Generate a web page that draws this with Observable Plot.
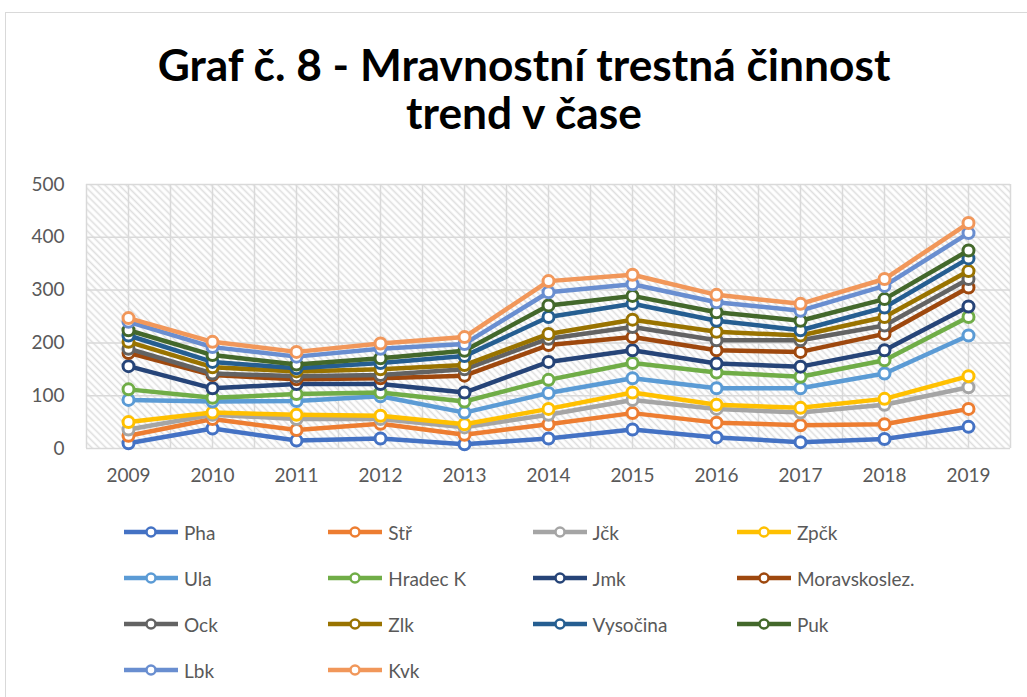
<!DOCTYPE html>
<html>
<head>
<meta charset="utf-8">
<script src="https://cdn.jsdelivr.net/npm/d3@7"></script>
<script src="https://cdn.jsdelivr.net/npm/@observablehq/plot@0.6"></script>
<style>
  html, body { margin: 0; padding: 0; background: #fff; }
  #page { position: relative; width: 1027px; height: 697px; overflow: hidden; font-family: Lato, "Liberation Sans", sans-serif; }
  #border { position: absolute; left: 5px; top: 12px; width: 1060px; height: 720px; border: 1.5px solid #d9d9d9; box-sizing: border-box; }
  .title { position: absolute; left: 0; width: 1048px; text-align: center; font-weight: 700; color: #000; white-space: nowrap; line-height: 1; }
  #chart { position: absolute; left: 0; top: 160px; }
  .leg { position: absolute; display: flex; align-items: center; font-size: 19px; color: #595959; white-space: nowrap; }
  .leg svg { margin-right: 5px; }
</style>
</head>
<body>
<div id="page">
  <div id="border"></div>
  <div class="title" id="t1">Graf č. 8 - Mravnostní trestná činnost</div>
  <div class="title" id="t2">trend v čase</div>
  <div id="chart"></div>
  <div id="legend"></div>
</div>
<script>
const years = [2009, 2010, 2011, 2012, 2013, 2014, 2015, 2016, 2017, 2018, 2019];
const yTicks = [0, 100, 200, 300, 400, 500];

const seriesNames = ["Pha", "Stř", "Jčk", "Zpčk", "Ula", "Hradec K", "Jmk", "Moravskoslez.", "Ock", "Zlk", "Vysočina", "Puk", "Lbk", "Kvk"];
const seriesColors = ["#4472C4", "#ED7D31", "#A5A5A5", "#FFC000", "#5B9BD5", "#70AD47", "#264478", "#9E480E", "#636363", "#997300", "#255E91", "#43682B", "#698ED0", "#F1975A"];

const pha      = [10, 38, 15, 19, 8, 19, 36, 21, 12, 18, 41];
const str      = [24, 56, 35, 47, 26, 46, 67, 49, 44, 46, 75];
const jck      = [36, 64, 56, 56, 40, 64, 92, 75, 68, 83, 116];
const zpck     = [50, 68, 64, 62, 46, 75, 106, 83, 77, 94, 137];
const ula      = [92, 89, 90, 99, 68, 105, 133, 114, 114, 142, 214];
const hradecK  = [112, 96, 103, 106, 89, 130, 162, 144, 136, 167, 249];
const jmk      = [156, 114, 122, 122, 106, 164, 186, 161, 155, 186, 269];
const morav    = [181, 139, 131, 133, 138, 196, 211, 186, 183, 217, 305];
const ock      = [189, 142, 137, 139, 150, 208, 230, 205, 205, 233, 321];
const zlk      = [202, 154, 146, 150, 158, 217, 244, 221, 214, 249, 336];
const vysocina = [214, 164, 152, 162, 175, 249, 274, 242, 224, 267, 360];
const puk      = [224, 177, 159, 171, 185, 271, 289, 258, 242, 283, 375];
const lbk      = [240, 192, 174, 189, 198, 296, 311, 277, 261, 308, 408];
const kvk      = [247, 202, 183, 199, 211, 317, 329, 291, 274, 321, 427];

const seriesValues = [pha, str, jck, zpck, ula, hradecK, jmk, morav, ock, zlk, vysocina, puk, lbk, kvk];

// long table
const rows = [];
seriesNames.forEach((name, i) => {
  years.forEach((yr, j) => rows.push({series: name, year: yr, value: seriesValues[i][j]}));
});

// fit title font to width
function fitTitle(el, targetWidth, top) {
  el.style.fontSize = "40px";
  const span = document.createElement("span");
  span.textContent = el.textContent;
  span.style.font = getComputedStyle(el).font;
  span.style.fontWeight = "700";
  span.style.position = "absolute"; span.style.visibility = "hidden"; span.style.whiteSpace = "nowrap";
  document.body.appendChild(span);
  const w = span.getBoundingClientRect().width;
  span.remove();
  return 40 * targetWidth / w;
}
const t1 = document.getElementById("t1");
const t2 = document.getElementById("t2");
const fs = fitTitle(t1, 733);
t1.style.fontSize = fs + "px";
t2.style.fontSize = fs + "px";
// baselines ~77 and ~125 ; line-height 1 => baseline ≈ top + 0.8*fs
t1.style.top = (77 - 0.8 * fs) + "px";
t2.style.top = (125 - 0.8 * fs) + "px";

const marks = [
  Plot.frame({fill: "url(#hatch)", stroke: null}),
  Plot.ruleX(d3.range(2008.5, 2019.51, 0.5), {stroke: "#d9d9d9", strokeWidth: 1.5}),
  Plot.ruleY(yTicks, {stroke: "#d9d9d9", strokeWidth: 1.5})
];
seriesNames.forEach((name, i) => {
  const data = rows.filter(d => d.series === name);
  marks.push(Plot.line(data, {x: "year", y: "value", stroke: seriesColors[i], strokeWidth: 4.5, strokeLinejoin: "round"}));
  marks.push(Plot.dot(data, {x: "year", y: "value", r: 5.5, fill: "white", stroke: seriesColors[i], strokeWidth: 3}));
});

const chart = Plot.plot({
  width: 1027,
  height: 340,
  marginLeft: 86,
  marginRight: 17,
  marginTop: 24,
  marginBottom: 52,
  style: {fontFamily: "Lato, 'Liberation Sans', sans-serif", fontSize: "19px", color: "#595959", background: "transparent", overflow: "visible"},
  x: {domain: [2008.5, 2019.5], ticks: years, tickFormat: d => String(d), tickSize: 0, tickPadding: 20, label: null},
  y: {domain: [0, 500], ticks: yTicks, tickSize: 0, tickPadding: 22, label: null},
  marks
});

// hatch pattern defs
const ns = "http://www.w3.org/2000/svg";
const defs = document.createElementNS(ns, "defs");
const pat = document.createElementNS(ns, "pattern");
pat.setAttribute("id", "hatch");
pat.setAttribute("patternUnits", "userSpaceOnUse");
pat.setAttribute("width", "5");
pat.setAttribute("height", "5");
pat.setAttribute("patternTransform", "rotate(-45)");
const bg = document.createElementNS(ns, "rect");
bg.setAttribute("width", "5"); bg.setAttribute("height", "5"); bg.setAttribute("fill", "#ffffff");
const ln = document.createElementNS(ns, "line");
ln.setAttribute("x1", "1.5"); ln.setAttribute("y1", "0"); ln.setAttribute("x2", "1.5"); ln.setAttribute("y2", "5");
ln.setAttribute("stroke", "#dedede"); ln.setAttribute("stroke-width", "1.6");
pat.appendChild(bg); pat.appendChild(ln);
defs.appendChild(pat);
chart.insertBefore(defs, chart.firstChild);

document.getElementById("chart").appendChild(chart);

// legend
const legend = document.getElementById("legend");
seriesNames.forEach((name, i) => {
  const col = i % 4, row = Math.floor(i / 4);
  const item = document.createElement("div");
  item.className = "leg";
  item.style.left = (123 + col * 204.3) + "px";
  item.style.top = (532 + row * 46 - 12) + "px";
  item.style.height = "24px";
  item.innerHTML = `<svg width="56" height="16"><line x1="1" y1="8" x2="55" y2="8" stroke="${seriesColors[i]}" stroke-width="4.5"/><circle cx="28" cy="8" r="4.5" fill="white" stroke="${seriesColors[i]}" stroke-width="2.5"/></svg><span>${name}</span>`;
  legend.appendChild(item);
});
</script>
</body>
</html>
